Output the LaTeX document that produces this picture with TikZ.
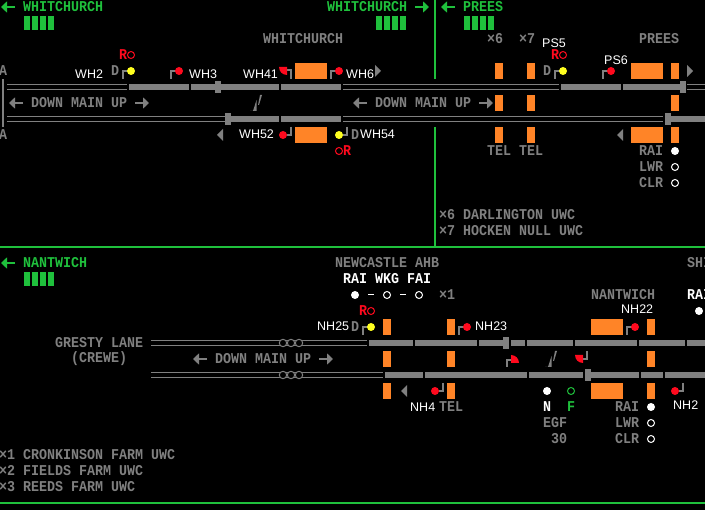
\documentclass[tikz,border=0pt]{standalone}
\usepackage{fontspec}
\setmainfont{Liberation Sans}
\newfontfamily\pix{Liberation Mono}[FakeStretch=0.889]
\definecolor{tg}{HTML}{808080}
\definecolor{og}{HTML}{FF8427}
\definecolor{gn}{HTML}{1FC03C}
\definecolor{rd}{HTML}{FF0A1E}
\definecolor{yl}{HTML}{FFFF20}
\usetikzlibrary{arrows.meta}
\tikzset{
 x=1pt,y=-1pt,
 tx/.style={inner sep=0pt,anchor=west,font=\pix\bfseries\fontsize{15}{16}\selectfont,text=tg},
 gt/.style={tx,text=gn},
 wt/.style={tx,text=white},
 rt/.style={tx,text=rd},
 lb/.style={inner sep=0pt,anchor=west,font=\fontsize{12.5}{14}\selectfont,text=white},
 rail/.style={draw=tg,line width=1pt},
 post/.style={draw=tg,line width=2pt},
 gnl/.style={draw=gn,line width=2pt},
 arr/.style={line width=2.2pt,-{Triangle[length=6pt,width=11pt]}},
}
\newcommand{\orng}[4]{\fill[og] (#1,#2) rectangle (#3,#4);}
\newcommand{\thk}[3]{\fill[tg] (#1,#3-3) rectangle (#2,#3+3);}
\newcommand{\blk}[2]{\fill[tg] (#1,#2-6) rectangle (#1+6,#2+6);}
\newcommand{\dbl}[3]{\draw[rail] (#1,#3-2.5) -- (#2,#3-2.5) (#1,#3+2.5) -- (#2,#3+2.5);}
\newcommand{\gbars}[2]{\foreach \k in {0,8,16,24} \fill[gn] (#1+\k,#2) rectangle (#1+\k+6,#2+14);}
\newcommand{\dotc}[3]{\fill[#1] (#2,#3) circle (4);}
\newcommand{\ring}[3]{\draw[#1,line width=1pt] (#2,#3) circle (3.5);}
\newcommand{\slashm}[2]{\fill[tg] (#1,#2+16) -- (#1+3,#2+16) -- (#1+6.5,#2+5) -- (#1+6.5,#2+16) -- cycle; \fill[tg] (#1+8,#2+10) -- (#1+9,#2+10) -- (#1+12,#2) -- (#1+10,#2) -- cycle;}
\begin{document}
\begin{tikzpicture}
\useasboundingbox (0,0) rectangle (705,510);
\fill[black] (0,0) rectangle (705,510);
% green frame
\draw[gnl] (435,0) -- (435,79) (435,127) -- (435,247);
\draw[gnl] (0,247) -- (705,247) (0,503) -- (705,503);
\draw[gn,arr] (15,7) -- (1,7);
\draw[gn,arr] (415,7) -- (429,7);
\draw[gn,arr] (455,7) -- (441,7);
\draw[gn,arr] (15,263) -- (1,263);
\gbars{24}{16}\gbars{376}{16}\gbars{464}{16}\gbars{24}{272}
\node[gt] (g1) at (23,7) {WHITCHURCH};
\node[gt] (g2) at (327,7) {WHITCHURCH};
\node[gt] (g3) at (463,7) {PREES};
\node[gt] (g4) at (23,263) {NANTWICH};
% top tracks
\fill[tg] (2,79) rectangle (4,127);
\node[tx] (a1) at (-1,71) {A};
\node[tx] (a2) at (-1,135) {A};
\dbl{7}{127}{87}
\thk{129}{189}{87}\thk{191}{279}{87}\blk{215}{87}\thk{281}{341}{87}
\dbl{343}{559}{87}
\thk{561}{621}{87}\thk{623}{683}{87}\blk{680}{87}
\dbl{687}{705}{87}
\dbl{7}{225}{119}
\blk{225}{119}\thk{231}{279}{119}\thk{281}{341}{119}
\dbl{343}{663}{119}
\blk{665}{119}\thk{671}{705}{119}
% arrows gray
\foreach \xa/\xb/\yy in {23/9/103,135/149/103,367/353/103,479/493/103,207/193/359,319/333/359}
  \draw[tg,arr] (\xa,\yy) -- (\xb,\yy);
\node[tx] (dm1) at (31,103) {DOWN MAIN UP};
\node[tx] (dm2) at (375,103) {DOWN MAIN UP};
\node[tx] (dm3) at (215,359) {DOWN MAIN UP};
\node[tx] (t1) at (263,39) {WHITCHURCH};
\node[tx] (t2) at (487,39) {×6};
\node[tx] (t3) at (519,39) {×7};
\node[tx] (t4) at (639,39) {PREES};
\node[tx] (t5) at (487,151) {TEL};
\node[tx] (t6) at (519,151) {TEL};
\node[tx] (t7) at (639,151) {RAI};
\node[tx] (t8) at (639,167) {LWR};
\node[tx] (t9) at (639,183) {CLR};
\node[tx] (t10) at (439,215) {×6 DARLINGTON UWC};
\node[tx] (t11) at (439,231) {×7 HOCKEN NULL UWC};
\node[tx] (t12) at (335,263) {NEWCASTLE AHB};
\node[tx] (t13) at (687,263) {SHI};
\node[tx] (t14) at (55,343) {GRESTY LANE};
\node[tx] (t15) at (71,359) {(CREWE)};
\node[tx] (t16) at (439,295) {×1};
\node[tx] (t17) at (591,295) {NANTWICH};
\node[tx] (t18) at (439,407) {TEL};
\node[tx] (t19) at (543,423) {EGF};
\node[tx] (t20) at (551,439) {30};
\node[tx] (t21) at (615,407) {RAI};
\node[tx] (t22) at (615,423) {LWR};
\node[tx] (t23) at (615,439) {CLR};
\node[tx] (t24) at (-1,455) {×1 CRONKINSON FARM UWC};
\node[tx] (t25) at (-1,471) {×2 FIELDS FARM UWC};
\node[tx] (t26) at (-1,487) {×3 REEDS FARM UWC};
\node[wt] (w1) at (343,279) {RAI WKG FAI};
\node[wt] (w2) at (687,295) {RAI};
\node[wt] (w3) at (543,407) {N};
\node[gt] (w4) at (567,407) {F};
% D
\node[tx] (d1) at (111,71) {D};
\node[tx] (d2) at (351,135) {D};
\node[tx] (d3) at (543,71) {D};
\node[tx] (d4) at (351,327) {D};
% R
\node[rt] (r1) at (119,55) {R};
\node[rt] (r2) at (343,151) {R};
\node[rt] (r3) at (551,55) {R};
\node[rt] (r4) at (359,311) {R};
\ring{rd}{131}{55}\ring{rd}{339}{151}\ring{rd}{563}{55}\ring{rd}{371}{311}
% labels
\node[lb] (l1) at (75,74) {WH2};
\node[lb] (l2) at (189,74) {WH3};
\node[lb] (l3) at (243,74) {WH41};
\node[lb] (l4) at (346,74) {WH6};
\node[lb] (l5) at (239,134) {WH52};
\node[lb] (l6) at (360,134) {WH54};
\node[lb] (l7) at (542,43) {PS5};
\node[lb] (l8) at (604,60) {PS6};
\node[lb] (l9) at (317,326) {NH25};
\node[lb] (l10) at (475,326) {NH23};
\node[lb] (l11) at (621,309) {NH22};
\node[lb] (l12) at (410,407) {NH4};
\node[lb] (l13) at (673,405) {NH2};
% orange
\orng{295}{63}{327}{79}\orng{295}{127}{327}{143}
\foreach \x in {495,527} {\orng{\x}{63}{\x+8}{79}\orng{\x}{95}{\x+8}{111}\orng{\x}{127}{\x+8}{143}}
\orng{671}{63}{679}{79}\orng{671}{95}{679}{111}\orng{671}{127}{679}{143}
\orng{631}{63}{663}{79}\orng{631}{127}{663}{143}
\foreach \x in {383,447} {\orng{\x}{319}{\x+8}{335}\orng{\x}{351}{\x+8}{367}\orng{\x}{383}{\x+8}{399}}
\orng{647}{319}{655}{335}\orng{647}{351}{655}{367}\orng{647}{383}{655}{399}
\orng{591}{319}{623}{335}\orng{591}{383}{623}{399}
% signals: post up-right (dot right of post top)
\foreach \x/\y/\c in {123/71/yl,171/71/rd,555/71/yl,603/71/rd,331/71/rd,363/327/yl,459/327/rd,627/327/rd}{
  \draw[post] (\x,\y+8) -- (\x,\y) -- (\x+5,\y);
  \dotc{\c}{\x+8}{\y}}
% signals post below, dot left
\draw[post] (291,127) -- (291,135) -- (287,135); \dotc{rd}{283}{135}
\draw[post] (347,127) -- (347,135) -- (343,135); \dotc{yl}{339}{135}
\draw[post] (443,383) -- (443,391) -- (439,391); \dotc{rd}{435}{391}
\draw[post] (683,383) -- (683,391) -- (679,391); \dotc{rd}{675}{391}
% lower tracks
\dbl{151}{367}{343}
\thk{369}{413}{343}\thk{415}{477}{343}\thk{479}{503}{343}\blk{503}{343}\thk{511}{525}{343}\thk{527}{573}{343}\thk{575}{637}{343}\thk{639}{685}{343}\thk{687}{705}{343}
\dbl{151}{383}{375}
\thk{385}{423}{375}\thk{425}{527}{375}\thk{529}{583}{375}\blk{585}{375}\thk{591}{639}{375}\thk{641}{663}{375}\thk{665}{705}{375}
\foreach \x in {283,291,299} {
 \fill[black] (\x,343) circle (4); \draw[tg,line width=1pt] (\x,343) circle (3.7);
 \fill[black] (\x,375) circle (4); \draw[tg,line width=1pt] (\x,375) circle (3.7);}
% small triangles
\fill[tg] (223,129) -- (217,135) -- (223,141) -- cycle;
\fill[tg] (375,65) -- (381,71) -- (375,77) -- cycle;
\fill[tg] (687,65) -- (693,71) -- (687,77) -- cycle;
\fill[tg] (623,129) -- (617,135) -- (623,141) -- cycle;
\fill[tg] (407,385) -- (401,391) -- (407,397) -- cycle;
% slashes
\slashm{250}{95}\slashm{545}{351}
% semaphore signals
\draw[post] (291,79) -- (291,70) -- (287,70);
\fill[rd] (287,67) -- (279,67) arc[start angle=180,end angle=90,radius=8] -- cycle;
\draw[post] (506.5,367) -- (506.5,360) -- (511,360);
\fill[rd] (511,363) -- (511,355) arc[start angle=270,end angle=360,radius=8] -- cycle;
\draw[post] (587,351) -- (587,359) -- (583,359);
\fill[rd] (583,355) -- (575,355) arc[start angle=180,end angle=90,radius=8] -- cycle;
% lamps
\fill[white] (675,151) circle (4);\ring{white}{675}{167}\ring{white}{675}{183}
\fill[white] (355,295) circle (4);\ring{white}{387}{295}\ring{white}{419}{295}
\fill[white] (368,294) rectangle +(6,1);\fill[white] (400,294) rectangle +(6,1);
\fill[white] (699,311) circle (4);
\fill[white] (547,391) circle (4);\ring{gn}{571}{391}
\fill[white] (651,407) circle (4);\ring{white}{651}{423}\ring{white}{651}{439}
\end{tikzpicture}
\end{document}
